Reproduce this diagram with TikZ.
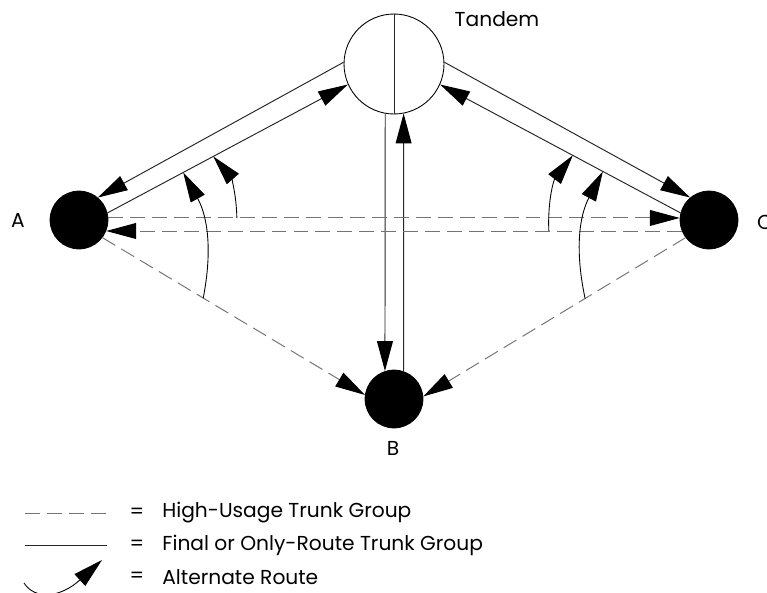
\documentclass[tikz,border=0pt]{standalone}
\usepackage{fontspec}
\setmainfont{Poppins}
\usepackage{tikz}
\usetikzlibrary{shapes,arrows.meta,calc}
\tikzstyle{office} = [circle, draw, fill=black, minimum size=1.16cm, inner sep=0pt]
\tikzstyle{switch} = [circle, draw, fill=white, line width=0.5pt, minimum size=2cm, inner sep=0pt]
\tikzstyle{final} = [draw, black!85, line width=0.55pt, -{Triangle[length=17pt, width=9pt, color=black]}]
\tikzstyle{usage} = [draw, black!55, line width=0.55pt, dash pattern=on 8.5pt off 4pt,
    -{Triangle[length=17pt, width=9pt, color=black]}]
\tikzstyle{alt} = [draw, black, line width=0.5pt, -{Triangle[length=17pt, width=9pt]}]
\tikzstyle{legend} = [anchor=west, inner sep=0pt]

\begin{document}
\begin{tikzpicture}[x=0.02cm, y=-0.02cm, font=\fontsize{11.5}{14}\selectfont]
    \useasboundingbox (0,0) rectangle (767,592);
    % Place nodes
    \node [switch] (tandem) at (394,64) {};
    \node [office] (a) at (79,220) {};
    \node [office] (b) at (394,399) {};
    \node [office] (c) at (709,220) {};
    \node (tandemlabel) at (497,19) {Tandem};
    \node (alabel) at (18,220) {A};
    \node (blabel) at (393,448) {B};
    \node (clabel) at (765,222) {C};

    % Draw edges
    \draw [black!85] (tandem.north) -- (tandem.south);
    \path [final] (tandem.178) -- (a.50);
    \path [final] (a.14) -- (tandem.204);
    \path [final] (tandem.2) -- (c.130);
    \path [final] (c.166) -- (tandem.-24);
    \path [final] (tandem.260) -- (b.108);
    \path [final] (b.71) -- (tandem.281);
    \path [usage] (a.4) -- (c.176);
    \path [usage] (c.202) -- (a.-22);
    \path [usage] (a.-37) -- (b.172);
    \path [usage] (c.217) -- (b.5);

    % Alternate routes
    \coordinate (asmall) at ($(a.4)!0.225!(c.176)$);
    \coordinate (asmalltip) at ($(a.14)!0.44!(tandem.204)$);
    \coordinate (abig) at ($(a.-37)!0.384!(b.172)$);
    \coordinate (abigtip) at ($(a.14)!0.315!(tandem.204)$);
    \coordinate (csmall) at ($(c.202)!0.231!(a.-22)$);
    \coordinate (csmalltip) at ($(c.166)!0.448!(tandem.-24)$);
    \coordinate (cbig) at ($(c.217)!0.383!(b.5)$);
    \coordinate (cbigtip) at ($(c.166)!0.323!(tandem.-24)$);
    \path [alt] (asmall) to [bend right=20] (asmalltip);
    \path [alt] (abig) to [bend right=20] (abigtip);
    \path [alt] (csmall) to [bend left=20] (csmalltip);
    \path [alt] (cbig) to [bend left=20] (cbigtip);

    % Legend
    \node (equsage) at (137,513) {=};
    \node (eqfinal) at (137,545) {=};
    \node (eqalt) at (137,577) {=};
    \node [legend] (usagetext) at (162,513) {High-Usage Trunk Group};
    \node [legend] (finaltext) at (162,545) {Final or Only-Route Trunk Group};
    \node [legend] (alttext) at (162,577) {Alternate Route};
    \path [usage, -] (25,513) -- (107,513);
    \path [final, -] (25,545) -- (107,545);
    \path [alt] (24,583) .. controls (35,600) and (60,598) .. (102,560);
\end{tikzpicture}
\end{document}
